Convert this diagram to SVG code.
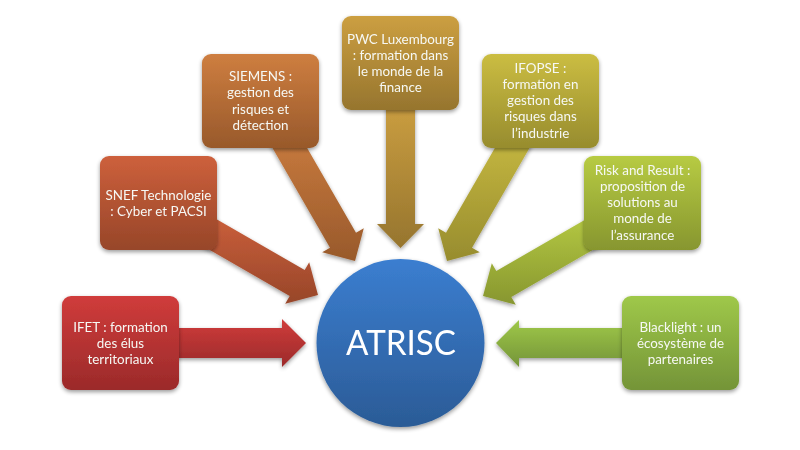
<svg xmlns="http://www.w3.org/2000/svg" width="800" height="450" viewBox="0 0 800 450">
<style>
text{font-family:"Lato","Open Sans","Liberation Sans",sans-serif;font-size:13.4px;fill:#f6f8f4;text-anchor:middle}
.b{filter:url(#s)}
#atrisc text{font-size:34.5px;fill:#fff}
</style>
<defs>
<filter id="s" x="-15%" y="-15%" width="130%" height="130%"><feGaussianBlur in="SourceAlpha" stdDeviation="2"/><feOffset dy="2" dx="0"/><feComponentTransfer><feFuncA type="linear" slope="0.4"/></feComponentTransfer><feMerge><feMergeNode/><feMergeNode in="SourceGraphic"/></feMerge></filter>
<filter id="a" x="-5%" y="-5%" width="110%" height="110%"><feGaussianBlur stdDeviation="0.35"/></filter>
<linearGradient id="g1" x1="0" y1="0" x2="0" y2="1"><stop offset="0" stop-color="#d03c3b"/><stop offset="1" stop-color="#9b2a2a"/></linearGradient>
<linearGradient id="g2" x1="0" y1="0" x2="0" y2="1"><stop offset="0" stop-color="#cd603c"/><stop offset="1" stop-color="#974629"/></linearGradient>
<linearGradient id="g3" x1="0" y1="0" x2="0" y2="1"><stop offset="0" stop-color="#ce7e40"/><stop offset="1" stop-color="#98592b"/></linearGradient>
<linearGradient id="g4" x1="0" y1="0" x2="0" y2="1"><stop offset="0" stop-color="#cc9f41"/><stop offset="1" stop-color="#96752e"/></linearGradient>
<linearGradient id="g5" x1="0" y1="0" x2="0" y2="1"><stop offset="0" stop-color="#cbbd42"/><stop offset="1" stop-color="#978c2e"/></linearGradient>
<linearGradient id="g6" x1="0" y1="0" x2="0" y2="1"><stop offset="0" stop-color="#b7cb43"/><stop offset="1" stop-color="#87962f"/></linearGradient>
<linearGradient id="g7" x1="0" y1="0" x2="0" y2="1"><stop offset="0" stop-color="#9fc849"/><stop offset="1" stop-color="#749438"/></linearGradient>
<linearGradient id="c" x1="0" y1="0" x2="0" y2="1"><stop offset="0" stop-color="#3b7ed0"/><stop offset="1" stop-color="#2b5b96"/></linearGradient>
</defs>
<rect width="800" height="450" fill="#fff"/>
<g filter="url(#a)">
<g id="connectors">
<polygon class="b" fill="url(#g1)" points="170,328 282,328 282,319 306,343 282,367 282,358 170,358"/>
<polygon class="b" fill="url(#g2)" points="204,212 304.7,270 309.2,262.2 318,295 285.2,303.8 289.7,296 189,238"/>
<polygon class="b" fill="url(#g3)" points="291,120 356,232.7 363.8,228.2 355,261 322.2,252.2 330,247.7 265,135"/>
<polygon class="b" fill="url(#g4)" points="386,100 415,100 415,224 424,224 400.5,248 377,224 386,224"/>
<polygon class="b" fill="url(#g5)" points="511,120 446,232.7 438.2,228.2 447,261 479.8,252.2 472,247.7 537,135"/>
<polygon class="b" fill="url(#g6)" points="600.2,211 496.3,271 491.8,263.2 483,296 515.8,304.8 511.3,297 615.2,237"/>
<polygon class="b" fill="url(#g7)" points="630,328 519,328 519,320 496,343 519,367 519,358 630,358"/>
</g>
<g id="ifet"><rect class="b" x="62" y="296" width="117" height="94" rx="9" fill="url(#g1)"/>
<text x="120.5" y="331.5">IFET : formation</text><text x="120.5" y="347.5">des élus</text><text x="120.5" y="363.5">territoriaux</text></g>
<g id="snef"><rect class="b" x="100" y="156" width="117" height="94" rx="9" fill="url(#g2)"/>
<text x="158.5" y="199.5">SNEF Technologie</text><text x="158.5" y="216">: Cyber et PACSI</text></g>
<g id="siemens"><rect class="b" x="202" y="54" width="117" height="94" rx="9" fill="url(#g3)"/>
<text x="260.5" y="81">SIEMENS :</text><text x="260.5" y="97">gestion des</text><text x="260.5" y="113.5">risques et</text><text x="260.5" y="129.5">détection</text></g>
<g id="pwc"><rect class="b" x="342" y="16" width="117" height="94" rx="9" fill="url(#g4)"/>
<text x="400.5" y="44">PWC Luxembourg</text><text x="400.5" y="60">: formation dans</text><text x="400.5" y="76">le monde de la</text><text x="400.5" y="92">finance</text></g>
<g id="ifopse"><rect class="b" x="482" y="54" width="117" height="94" rx="9" fill="url(#g5)"/>
<text x="540.5" y="73">IFOPSE :</text><text x="540.5" y="89">formation en</text><text x="540.5" y="105">gestion des</text><text x="540.5" y="121">risques dans</text><text x="540.5" y="137.5">l’industrie</text></g>
<g id="risk"><rect class="b" x="584" y="156" width="117" height="94" rx="9" fill="url(#g6)"/>
<text x="642.5" y="175">Risk and Result :</text><text x="642.5" y="191">proposition de</text><text x="642.5" y="207">solutions au</text><text x="642.5" y="223">monde de</text><text x="642.5" y="240">l’assurance</text></g>
<g id="blacklight"><rect class="b" x="622" y="296" width="117" height="94" rx="9" fill="url(#g7)"/>
<text x="680.5" y="331.5">Blacklight : un</text><text x="680.5" y="347.5">écosystème de</text><text x="680.5" y="363.5">partenaires</text></g>
<g id="atrisc"><circle class="b" cx="400.5" cy="343" r="84" fill="url(#c)"/>
<text x="401" y="354.5" textLength="110" lengthAdjust="spacingAndGlyphs">ATRISC</text></g>
</g>
</svg>
